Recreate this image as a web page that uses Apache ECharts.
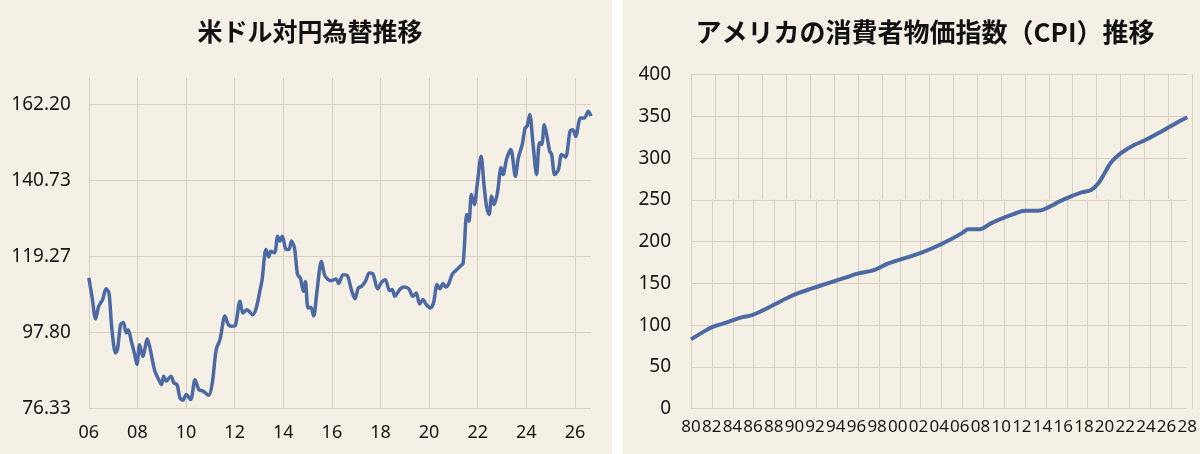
<!DOCTYPE html>
<html>
<head>
<meta charset="utf-8">
<script src="https://cdn.jsdelivr.net/npm/echarts@6/dist/echarts.min.js"></script>
<style>
html,body{margin:0;padding:0;background:#ffffff;}
#c{width:1200px;height:454px;}
</style>
</head>
<body>
<div id="c"></div>
<script>
// ---- Left chart: USD/JPY ----
const usdYears = [2006.0,2006.13,2006.28,2006.41,2006.57,2006.71,2006.83,2006.94,2007.1,2007.18,2007.31,2007.42,2007.54,2007.62,2007.75,2007.89,2007.98,2008.09,2008.22,2008.41,2008.53,2008.72,2008.88,2008.99,2009.08,2009.19,2009.38,2009.5,2009.63,2009.75,2009.87,2010.01,2010.19,2010.37,2010.53,2010.69,2010.93,2011.08,2011.24,2011.4,2011.6,2011.74,2011.87,2012.03,2012.22,2012.34,2012.5,2012.74,2012.89,2013.05,2013.13,2013.29,2013.4,2013.48,2013.64,2013.77,2013.86,2013.96,2014.12,2014.23,2014.34,2014.46,2014.59,2014.7,2014.83,2014.91,2015.02,2015.13,2015.25,2015.38,2015.57,2015.72,2015.96,2016.17,2016.28,2016.46,2016.64,2016.8,2016.95,2017.09,2017.22,2017.38,2017.54,2017.69,2017.88,2018.04,2018.2,2018.37,2018.48,2018.59,2018.79,2018.95,2019.16,2019.34,2019.47,2019.61,2019.74,2019.89,2020.05,2020.18,2020.33,2020.44,2020.57,2020.68,2020.79,2020.96,2021.12,2021.28,2021.4,2021.55,2021.64,2021.74,2021.86,2021.97,2022.14,2022.25,2022.36,2022.47,2022.57,2022.68,2022.81,2022.96,2023.04,2023.2,2023.36,2023.55,2023.67,2023.83,2023.95,2024.03,2024.14,2024.27,2024.42,2024.54,2024.63,2024.74,2024.85,2024.96,2025.04,2025.17,2025.32,2025.45,2025.61,2025.8,2025.91,2026.03,2026.23,2026.39,2026.55,2026.66];
const usdValues = [113.2,108.0,101.6,105.2,107.1,110.1,108.9,99.5,92.0,93.0,100.0,100.6,97.6,98.5,95.3,91.5,88.7,94.3,91.0,95.9,92.9,86.8,84.4,83.0,85.4,84.0,85.4,83.5,83.0,79.3,78.6,80.2,78.8,84.4,81.6,81.2,80.0,83.5,92.9,95.8,102.4,100.0,99.5,99.8,106.6,103.3,104.2,102.8,104.7,109.9,112.7,121.2,119.1,120.7,120.3,125.0,123.6,125.0,121.2,121.2,123.6,121.7,114.1,113.2,109.4,112.2,104.7,104.9,102.4,109.0,117.9,113.7,112.4,112.9,111.6,114.1,113.8,109.9,107.3,110.4,110.8,112.2,114.6,114.3,110.1,111.9,112.7,109.6,109.9,108.0,109.9,110.6,110.1,108.0,108.9,105.8,107.1,105.6,104.7,106.1,111.3,110.1,111.6,110.6,111.3,114.3,115.4,116.5,117.4,131.1,129.2,136.8,133.9,139.1,147.6,140.1,133.5,131.1,136.3,133.9,137.2,144.3,142.4,147.1,149.5,141.9,147.1,150.9,155.6,156.1,159.4,151.4,142.4,151.4,150.9,156.5,153.2,149.0,148.1,142.4,143.8,148.1,147.3,154.7,155.1,153.2,158.4,158.4,160.3,158.9];
const usdYTicks = ['76.33','97.80','119.27','140.73','162.20'];
const usdXTicks = ['06','08','10','12','14','16','18','20','22','24','26'];

// ---- Right chart: US CPI ----
const cpiYears = [1980,1981.2,1982.1,1983.4,1984.8,1985.9,1987.0,1988.1,1989.2,1990.3,1991.7,1993.2,1994.7,1996.2,1997.7,1999.1,2000.6,2002.1,2003.5,2005.0,2006.3,2006.8,2007.9,2009.0,2010.1,2011.2,2012.3,2013.6,2014.7,2015.6,2016.7,2017.8,2018.7,2019.4,2020.0,2020.7,2021.8,2022.9,2024.0,2025.5,2026.9,2028.0];
const cpiValues = [83,92,98,103,109,112,118,125,132,138,144,150,156,162,166,174,180,186,193,202,211,215,215,222,228,233,237,237,242,248,254,259,262,270,282,296,308,316,322,332,342,349];
const cpiXTicks = ['80','82','84','86','88','90','92','94','96','98','00','02','04','06','08','10','12','14','16','18','20','22','24','26','28'];

const usdData = usdYears.map((y, i) => [y, usdValues[i]]);
const cpiData = cpiYears.map((y, i) => [y, cpiValues[i]]);

const bg = '#f4f0e5';
const gridColor = '#d9d0bf';
const lineColor = '#4d69a3';
const txt = '#161616';
const font = '"Noto Sans", "Noto Sans CJK JP", sans-serif';

const uMin = 76.33, uInt = 21.4675;
function usdYFmt(v) {
  const k = (v - uMin) / uInt;
  const r = Math.round(k);
  return Math.abs(k - r) < 0.01 && usdYTicks[r] ? usdYTicks[r] : '';
}
function usdXFmt(v) {
  const k = (v - 2006) / 2;
  const r = Math.round(k);
  return Math.abs(k - r) < 0.01 && usdXTicks[r] ? usdXTicks[r] : '';
}
function cpiXFmt(v) {
  const k = (v - 1980) / 2;
  const r = Math.round(k);
  return Math.abs(k - r) < 0.01 && cpiXTicks[r] ? cpiXTicks[r] : '';
}

const chart = echarts.init(document.getElementById('c'), null, {renderer: 'canvas'});
const hidden = {show: false};
chart.setOption({
  animation: false,
  backgroundColor: '#ffffff',
  graphic: [
    {type: 'rect', z: -10, shape: {x: 0, y: 0, width: 612, height: 454}, style: {fill: bg}},
    {type: 'rect', z: -10, shape: {x: 623, y: 0, width: 577, height: 454}, style: {fill: bg}}
  ],
  title: [
    {text: '米ドル対円為替推移', left: 305, top: 14, textAlign: 'center',
     textStyle: {fontFamily: '"Noto Sans CJK JP", sans-serif', fontWeight: 'bold', fontSize: 25, color: '#111111'}},
    {text: 'アメリカの消費者物価指数（CPI）推移', left: 920, top: 14, textAlign: 'center',
     textStyle: {fontFamily: '"Noto Sans CJK JP", sans-serif', fontWeight: 'bold', fontSize: 26, color: '#111111'}}
  ],
  grid: [
    {left: 88.8, width: 502.2, top: 78, bottom: 45.7},
    {left: 691, width: 501, top: 74.7, bottom: 45.3},
    {left: 691, width: 501, top: 74.7, height: 124.6},
    {left: 691, width: 501, top: 199.3, bottom: 45.3}
  ],
  xAxis: [
    {gridIndex: 0, type: 'value', min: 2006, max: 2026.66, interval: 2,
     axisLine: hidden, axisTick: hidden,
     splitLine: {show: true, showMaxLine: false, lineStyle: {color: gridColor, width: 1}},
     axisLabel: {formatter: usdXFmt, fontFamily: font, fontSize: 18, color: txt, margin: 16, showMaxLabel: false}},
    {gridIndex: 1, type: 'value', min: 1980, max: 2028, interval: 2,
     axisLine: hidden, axisTick: hidden, splitLine: hidden,
     axisLabel: {formatter: cpiXFmt, fontFamily: font, fontSize: 17, color: txt, margin: 10}},
    {gridIndex: 2, type: 'value', min: 0, max: 21, interval: 1,
     axisLine: hidden, axisTick: hidden, axisLabel: hidden,
     splitLine: {show: true, lineStyle: {color: gridColor, width: 1}}},
    {gridIndex: 3, type: 'value', min: 1980, max: 2028, interval: 2,
     axisLine: hidden, axisTick: hidden, axisLabel: hidden,
     splitLine: {show: true, lineStyle: {color: gridColor, width: 1}}}
  ],
  yAxis: [
    {gridIndex: 0, type: 'value', min: uMin, max: 169.7, interval: uInt,
     axisLine: hidden, axisTick: hidden,
     splitLine: {show: true, showMaxLine: false, lineStyle: {color: gridColor, width: 1}},
     axisLabel: {formatter: usdYFmt, fontFamily: font, fontSize: 19, color: txt, margin: 18, showMaxLabel: false}},
    {gridIndex: 1, type: 'value', min: 0, max: 400, interval: 50,
     axisLine: hidden, axisTick: hidden,
     splitLine: {show: true, lineStyle: {color: gridColor, width: 1}},
     axisLabel: {fontFamily: font, fontSize: 19, color: txt, margin: 20}},
    {gridIndex: 2, type: 'value', min: 0, max: 1, show: false},
    {gridIndex: 3, type: 'value', min: 0, max: 1, show: false}
  ],
  series: [
    {type: 'line', xAxisIndex: 0, yAxisIndex: 0, data: usdData, smooth: 0.3,
     showSymbol: false, lineStyle: {color: lineColor, width: 3.5}, z: 5},
    {type: 'line', xAxisIndex: 1, yAxisIndex: 1, data: cpiData, smooth: 0.4,
     showSymbol: false, lineStyle: {color: lineColor, width: 4}, z: 5},
    {type: 'line', xAxisIndex: 2, yAxisIndex: 2, data: [], showSymbol: false},
    {type: 'line', xAxisIndex: 3, yAxisIndex: 3, data: [], showSymbol: false}
  ]
});
</script>
</body>
</html>
